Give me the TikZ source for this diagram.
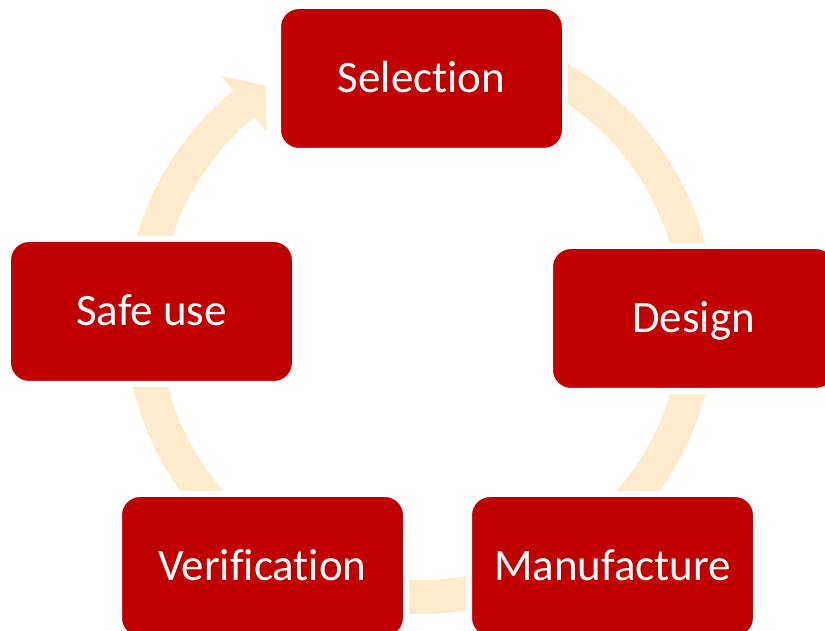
\documentclass[tikz,border=0pt]{standalone}
\usepackage{fontspec}
\setmainfont[Ligatures=NoCommon]{Carlito}
\usetikzlibrary{calc}
\pgfdeclarelayer{bg}
\pgfsetlayers{bg,main}
\definecolor{boxred}{RGB}{192,0,0}
\definecolor{ringpeach}{RGB}{253,235,206}
\tikzset{
  stage/.style={draw=white, line width=0.12cm, fill=boxred, rounded corners=0.42cm,
    minimum width=5.74cm, minimum height=2.9cm, inner sep=0pt, text=white,
    font=\fontsize{25.6pt}{30pt}\selectfont, text height=16.5pt, text depth=0pt},
  ring/.style={ringpeach, line width=0.68cm},
}

\begin{document}
\begin{tikzpicture}
    \useasboundingbox (0,0) rectangle (16.5cm,12.62cm);
    \coordinate (ctr) at (8.40cm, 6.24cm);

    \node (selection) [stage] at (8.43cm, 11.05cm) {Selection};
    \node (design) [stage] at (13.87cm, 6.25cm) {Design};
    \node (manufacture) [stage] at (12.25cm, 1.29cm) {Manufacture};
    \node (verification) [stage] at (5.25cm, 1.29cm) {Verification};
    \node (safeuse) [stage] at (3.03cm, 6.39cm) {Safe use};

    \begin{pgfonlayer}{bg}
        \draw[ring] ($(ctr)+(100:5.56cm)$) arc[start angle=100, end angle=-231, radius=5.56cm];
        \fill[ringpeach] ($(ctr)+(129.3:6.28cm)$) -- ($(ctr)+(123.5:5.6cm)$)
            -- ($(ctr)+(129.3:4.84cm)$) -- cycle;
    \end{pgfonlayer}
\end{tikzpicture}
\end{document}
